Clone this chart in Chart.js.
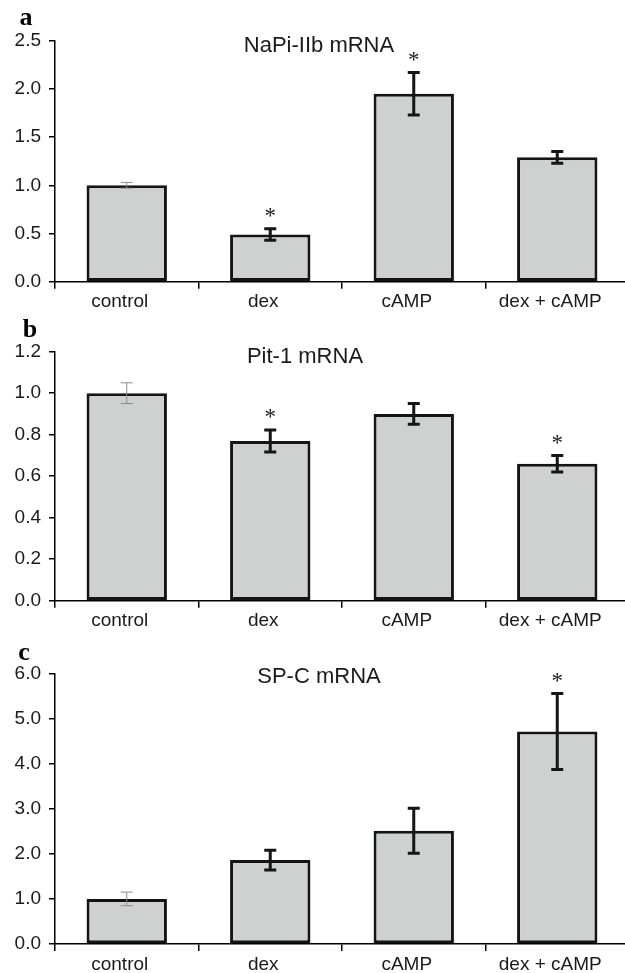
<!DOCTYPE html>
<html>
<head>
<meta charset="utf-8">
<script src="https://cdn.jsdelivr.net/npm/chart.js@4"></script>
<style>
  html, body { margin: 0; padding: 0; background: #fff; overflow: hidden; }
  body { width: 625px; height: 973px; position: relative; }
  canvas { position: absolute; left: 0; }
</style>
</head>
<body>
<canvas id="chartA"></canvas>
<canvas id="chartB"></canvas>
<canvas id="chartC"></canvas>
<script>
// Data
const categories = ['control', 'dex', 'cAMP', 'dex + cAMP'];

const napiMean = [1.00, 0.49, 1.95, 1.29];
const napiErr  = [0.03, 0.06, 0.22, 0.06];
const napiStar = [false, true, true, false];

const pit1Mean = [1.00, 0.77, 0.90, 0.66];
const pit1Err  = [0.05, 0.053, 0.05, 0.04];
const pit1Star = [false, true, false, true];

const spcMean = [1.00, 1.86, 2.51, 4.71];
const spcErr  = [0.15, 0.22, 0.50, 0.84];
const spcStar = [false, false, false, true];

const FONT = '"Liberation Sans", Arial, sans-serif';
const INK = '#1a1a1a';

// Error bars, asterisks, title and panel letter
const extrasPlugin = {
    id: 'extras',
    afterDatasetsDraw(chart) {
        const o = chart.options.plugins.extras;
        const ctx = chart.ctx;
        const meta = chart.getDatasetMeta(0);
        const y = chart.scales.y;
        ctx.save();
        meta.data.forEach((bar, i) => {
            const mean = o.mean[i];
            const err = o.err[i];
            const yTop = y.getPixelForValue(mean + err);
            const yBot = y.getPixelForValue(mean - err);
            const x = bar.x;
            const first = i === 0;
            ctx.strokeStyle = first ? '#8c8c8c' : '#151515';
            ctx.lineWidth = first ? 1 : 3;
            ctx.lineCap = 'butt';
            ctx.beginPath();
            ctx.moveTo(x, yTop);
            ctx.lineTo(x, yBot);
            ctx.moveTo(x - 6, yTop);
            ctx.lineTo(x + 6, yTop);
            ctx.moveTo(x - 6, yBot);
            ctx.lineTo(x + 6, yBot);
            ctx.stroke();

            if (o.star[i]) {
                ctx.fillStyle = INK;
                ctx.font = '23px "Liberation Serif", "Times New Roman", serif';
                ctx.textAlign = 'center';
                ctx.textBaseline = 'alphabetic';
                ctx.fillText('*', x, yTop - 16 + 10.5);
            }
        });

        ctx.fillStyle = INK;
        ctx.font = '22px ' + FONT;
        ctx.textAlign = 'center';
        ctx.textBaseline = 'alphabetic';
        ctx.fillText(o.title, o.titleX, o.titleY);

        ctx.font = 'bold 26px "Liberation Serif", "Times New Roman", serif';
        ctx.fillStyle = '#000';
        ctx.fillText(o.letter, o.letterX, o.letterY);
        ctx.restore();
    }
};

function makePanel(id, cfg) {
    const canvas = document.getElementById(id);
    const H = cfg.canvasBottom - cfg.canvasTop;
    canvas.width = 632;
    canvas.height = H;
    canvas.style.top = cfg.canvasTop + 'px';
    canvas.style.width = '632px';
    canvas.style.height = H + 'px';

    return new Chart(canvas.getContext('2d'), {
        type: 'bar',
        data: {
            labels: categories,
            datasets: [{
                data: cfg.mean,
                backgroundColor: '#cfd1d0',
                borderColor: '#141414',
                borderWidth: 3,
                borderSkipped: false,
                categoryPercentage: 1.0,
                barPercentage: 0.56
            }]
        },
        options: {
            responsive: false,
            animation: false,
            devicePixelRatio: 1,
            layout: {
                padding: { top: cfg.plotTop - cfg.canvasTop, right: 3, left: 0, bottom: 0 }
            },
            plugins: {
                legend: { display: false },
                tooltip: { enabled: false },
                extras: {
                    mean: cfg.mean,
                    err: cfg.err,
                    star: cfg.star,
                    title: cfg.title,
                    titleX: cfg.titleX,
                    titleY: cfg.titleY - cfg.canvasTop,
                    letter: cfg.letter,
                    letterX: cfg.letterX,
                    letterY: cfg.letterY - cfg.canvasTop
                }
            },
            scales: {
                x: {
                    afterFit: (scale) => { scale.height = cfg.canvasBottom - cfg.plotBottom; },
                    grid: {
                        display: true,
                        drawOnChartArea: false,
                        drawTicks: true,
                        tickLength: 7,
                        color: '#000',
                        lineWidth: 1.5
                    },
                    border: { display: true, color: '#000', width: 1.5 },
                    ticks: {
                        color: INK,
                        padding: 2,
                        labelOffset: -7,
                        maxRotation: 0,
                        font: { size: 19, family: FONT }
                    }
                },
                y: {
                    min: 0,
                    max: cfg.max,
                    afterFit: (scale) => { scale.width = 55; },
                    grid: {
                        display: true,
                        drawOnChartArea: false,
                        drawTicks: true,
                        tickLength: 6,
                        color: '#000',
                        lineWidth: 1.5
                    },
                    border: { display: true, color: '#000', width: 1.5 },
                    ticks: {
                        stepSize: cfg.step,
                        color: INK,
                        padding: 8,
                        font: { size: 19, family: FONT },
                        callback: (v) => Number(v).toFixed(1)
                    }
                }
            }
        },
        plugins: [extrasPlugin]
    });
}

makePanel('chartA', {
    mean: napiMean, err: napiErr, star: napiStar, max: 2.5, step: 0.5,
    title: 'NaPi-IIb mRNA', titleX: 319, titleY: 52,
    letter: 'a', letterX: 26, letterY: 25,
    canvasTop: 0, canvasBottom: 315, plotTop: 40.7, plotBottom: 281.7
});

makePanel('chartB', {
    mean: pit1Mean, err: pit1Err, star: pit1Star, max: 1.2, step: 0.2,
    title: 'Pit-1 mRNA', titleX: 305, titleY: 363,
    letter: 'b', letterX: 30, letterY: 337,
    canvasTop: 315, canvasBottom: 635, plotTop: 351.7, plotBottom: 600.7
});

makePanel('chartC', {
    mean: spcMean, err: spcErr, star: spcStar, max: 6, step: 1,
    title: 'SP-C mRNA', titleX: 319, titleY: 683,
    letter: 'c', letterX: 24, letterY: 660,
    canvasTop: 635, canvasBottom: 973, plotTop: 673.3, plotBottom: 944
});
</script>
</body>
</html>
